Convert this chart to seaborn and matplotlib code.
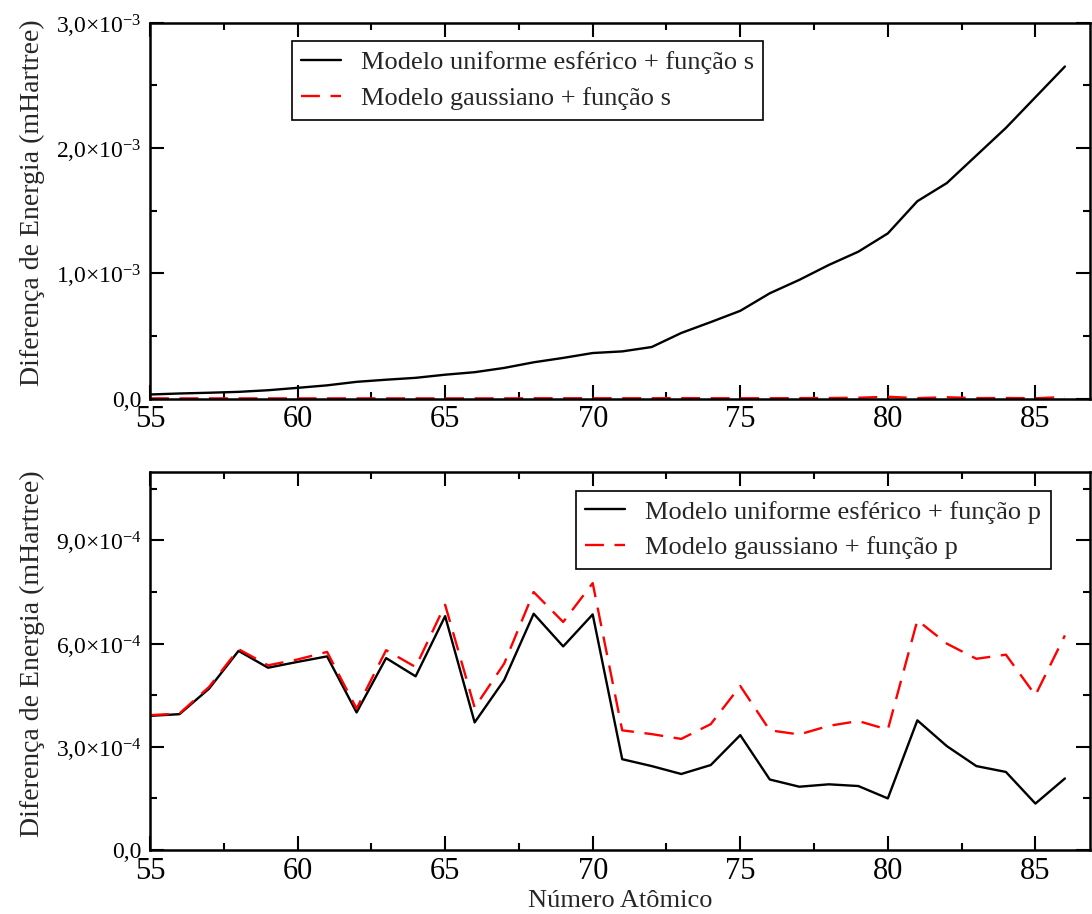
import numpy as np
import pandas as pd
import matplotlib
matplotlib.use("Agg")
import matplotlib.pyplot as plt
from matplotlib.ticker import MultipleLocator, FuncFormatter
import seaborn as sns

# Atomic numbers
numero_atomico = list(range(55, 87))

# Energy differences with an s function added (Hartree)
uniforme_s = [0.032e-3, 0.040e-3, 0.046e-3, 0.053e-3, 0.066e-3, 0.085e-3, 0.105e-3,
              0.133e-3, 0.150e-3, 0.165e-3, 0.190e-3, 0.210e-3, 0.244e-3, 0.289e-3,
              0.324e-3, 0.363e-3, 0.376e-3, 0.411e-3, 0.523e-3, 0.610e-3, 0.700e-3,
              0.840e-3, 0.947e-3, 1.066e-3, 1.172e-3, 1.318e-3, 1.575e-3, 1.720e-3,
              1.940e-3, 2.160e-3, 2.405e-3, 2.650e-3]
gaussiano_s = [0.001e-3, 0.001e-3, 0.001e-3, 0.001e-3, 0.001e-3, 0.001e-3, 0.001e-3,
               0.001e-3, 0.001e-3, 0.001e-3, 0.001e-3, 0.001e-3, 0.001e-3, 0.002e-3,
               0.002e-3, 0.002e-3, 0.002e-3, 0.002e-3, 0.003e-3, 0.002e-3, 0.002e-3,
               0.002e-3, 0.003e-3, 0.004e-3, 0.006e-3, 0.014e-3, 0.003e-3, 0.010e-3,
               0.003e-3, 0.004e-3, 0.002e-3, 0.012e-3]

# Energy differences with a p function added (Hartree)
uniforme_p = [3.90e-4, 3.95e-4, 4.69e-4, 5.79e-4, 5.30e-4, 5.47e-4, 5.63e-4, 4.00e-4,
              5.58e-4, 5.05e-4, 6.80e-4, 3.71e-4, 4.94e-4, 6.87e-4, 5.92e-4, 6.85e-4,
              2.64e-4, 2.44e-4, 2.21e-4, 2.47e-4, 3.34e-4, 2.05e-4, 1.84e-4, 1.91e-4,
              1.86e-4, 1.50e-4, 3.77e-4, 3.02e-4, 2.44e-4, 2.27e-4, 1.35e-4, 2.08e-4]
gaussiano_p = [3.92e-4, 3.97e-4, 4.74e-4, 5.84e-4, 5.37e-4, 5.54e-4, 5.76e-4, 4.11e-4,
               5.81e-4, 5.32e-4, 7.13e-4, 4.14e-4, 5.42e-4, 7.50e-4, 6.63e-4, 7.76e-4,
               3.48e-4, 3.37e-4, 3.23e-4, 3.66e-4, 4.77e-4, 3.48e-4, 3.36e-4, 3.61e-4,
               3.75e-4, 3.50e-4, 6.68e-4, 6.00e-4, 5.56e-4, 5.68e-4, 4.50e-4, 6.24e-4]

rotulos_s = ["Modelo uniforme esférico + função s", "Modelo gaussiano + função s"]
rotulos_p = ["Modelo uniforme esférico + função p", "Modelo gaussiano + função p"]

sns.set_style("ticks")
plt.rcParams["font.family"] = ["Liberation Serif", "DejaVu Serif"]
plt.rcParams["mathtext.fontset"] = "custom"
plt.rcParams["mathtext.rm"] = "Liberation Serif"
plt.rcParams["mathtext.it"] = "Liberation Serif:italic"
plt.rcParams["mathtext.bf"] = "Liberation Serif:bold"
plt.rcParams["mathtext.default"] = "regular"

W, H = 1092, 914
fig = plt.figure(figsize=(W / 100, H / 100), dpi=100)


def px_axes(left, top, right, bottom):
    return [left / W, 1 - bottom / H, (right - left) / W, (bottom - top) / H]


ax1 = fig.add_axes(px_axes(150, 22.7, 1090, 398.5))
ax2 = fig.add_axes(px_axes(150, 471.7, 1090, 850))


def long_frame(a, b, labels):
    return pd.DataFrame({
        "Z": numero_atomico * 2,
        "E": list(a) + list(b),
        "serie": [labels[0]] * len(a) + [labels[1]] * len(b),
    })


def sci_fmt(exp):
    def f(v, pos):
        m = v / 10.0 ** exp
        if abs(m) < 1e-9:
            return "0,0"
        s = f"{m:.1f}".replace(".", ",")
        return s + "×10$^{" + str(exp) + "}$"
    return f


palette = {}
dashes_map = {}
for lab in rotulos_s + rotulos_p:
    palette[lab] = "black" if "uniforme" in lab else "#ff0000"
    dashes_map[lab] = "" if "uniforme" in lab else (8, 4.5)

for ax, a, b, labels in [(ax1, uniforme_s, gaussiano_s, rotulos_s),
                         (ax2, uniforme_p, gaussiano_p, rotulos_p)]:
    df = long_frame(a, b, labels)
    sns.lineplot(data=df, x="Z", y="E", hue="serie", style="serie",
                 palette={k: palette[k] for k in labels},
                 dashes={k: dashes_map[k] for k in labels},
                 linewidth=1.7, ax=ax, legend=True)
    ax.set_xlim(55, 86.85)
    ax.xaxis.set_major_locator(MultipleLocator(5))
    ax.xaxis.set_minor_locator(MultipleLocator(2.5))
    ax.tick_params(which="both", direction="in", top=True, right=True,
                   width=1.5, colors="black")
    ax.tick_params(which="major", length=10)
    ax.tick_params(which="minor", length=5)
    ax.tick_params(axis="x", labelsize=22, pad=5)
    ax.tick_params(axis="y", labelsize=17, pad=6)
    for sp in ax.spines.values():
        sp.set_linewidth(1.8)
        sp.set_color("black")
    ax.set_ylabel("Diferença de Energia (mHartree)", fontsize=20)
    ax.yaxis.set_label_coords(-0.112, 0.52)
    ax.set_xlabel("")

ax1.set_ylim(0, 3.0e-3)
ax1.yaxis.set_major_locator(MultipleLocator(1.0e-3))
ax1.yaxis.set_minor_locator(MultipleLocator(0.5e-3))
ax1.yaxis.set_major_formatter(FuncFormatter(sci_fmt(-3)))

ax2.set_ylim(0, 1.1e-3)
ax2.yaxis.set_major_locator(MultipleLocator(3.0e-4))
ax2.yaxis.set_minor_locator(MultipleLocator(1.5e-4))
ax2.yaxis.set_major_formatter(FuncFormatter(sci_fmt(-4)))

ax2.set_xlabel("Número Atômico", fontsize=19)
ax2.xaxis.set_label_coords(0.5, -0.165)
ax2.xaxis.label.set_va("bottom")

leg_kw = dict(fontsize=19, frameon=True, fancybox=False, framealpha=1,
              edgecolor="black", borderaxespad=0, handlelength=1.5,
              handletextpad=0.76, borderpad=0.36, labelspacing=0.47)
l1 = ax1.legend(loc="upper left", bbox_to_anchor=(0.1507, 0.9505), **leg_kw)
l2 = ax2.legend(loc="upper right", bbox_to_anchor=(0.958, 0.95), **leg_kw)
for lg in (l1, l2):
    lg.get_frame().set_linewidth(1.2)

fig.savefig("out.png", dpi=100, facecolor="white")
